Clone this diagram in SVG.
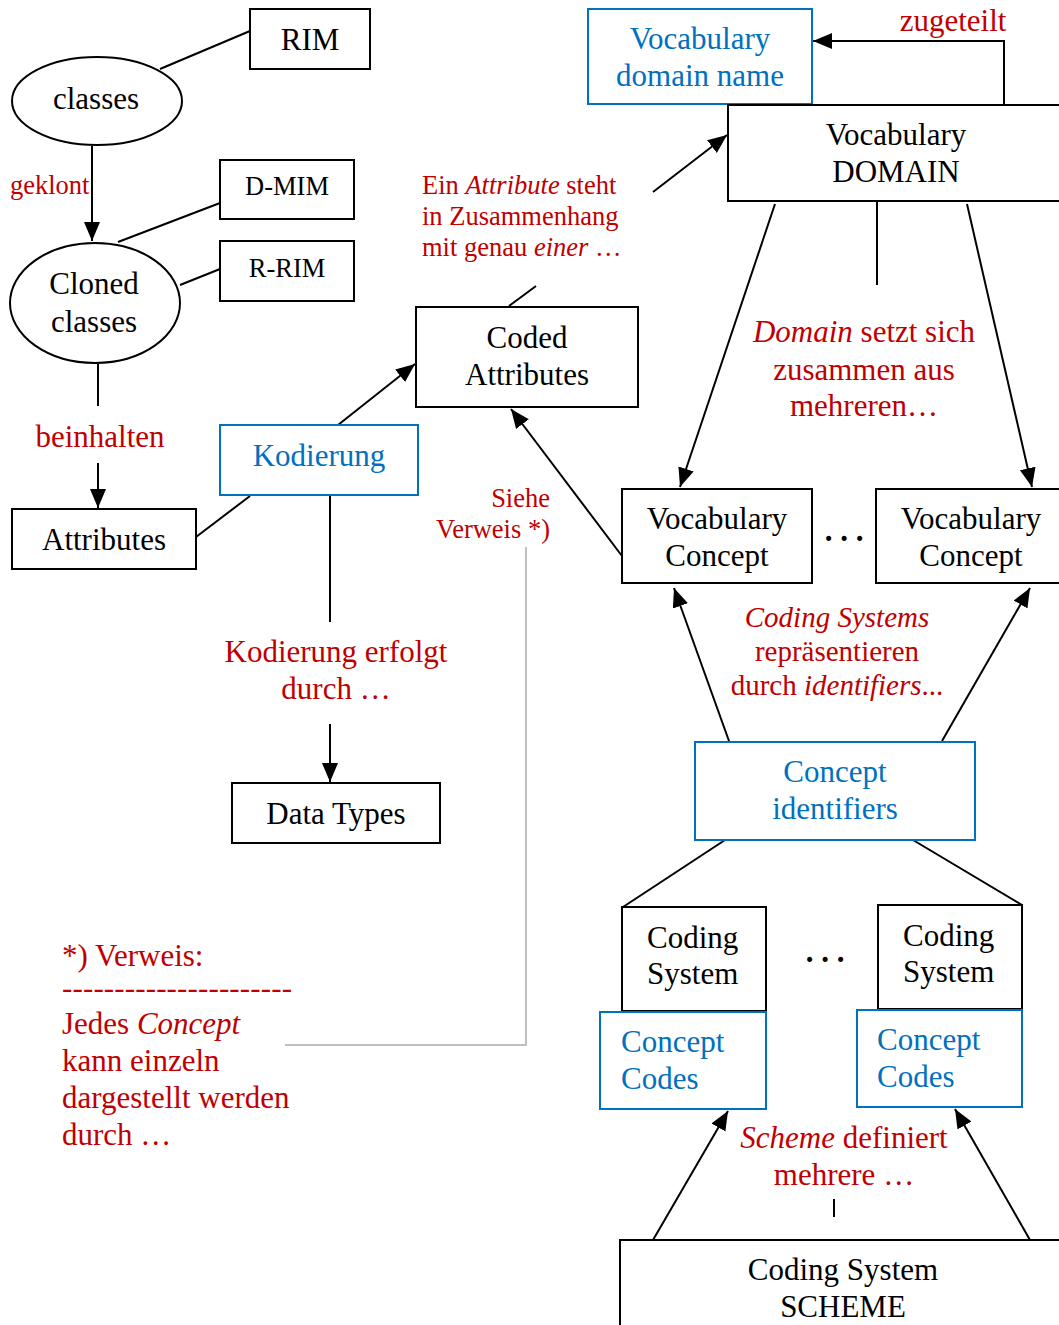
<svg xmlns="http://www.w3.org/2000/svg" width="1059" height="1325" viewBox="0 0 1059 1325">
  <style>
    .box { fill: #fff; stroke: #000; stroke-width: 2; }
    .bbox { fill: #fff; stroke: #0070c0; stroke-width: 2; }
    .t { font-family: "Liberation Serif", "Times New Roman", serif; font-size: 31px; fill: #000; }
    .tb { font-family: "Liberation Serif", "Times New Roman", serif; font-size: 31px; fill: #0070c0; }
    .tr { font-family: "Liberation Serif", "Times New Roman", serif; font-size: 31px; fill: #c00000; }
    .s { font-size: 26.5px; }
    .m { font-size: 29px; }
    .c { text-anchor: middle; }
    .e { text-anchor: end; }
    .i { font-style: italic; }
    .dots { font-weight: bold; }
    .ln { stroke: #000; stroke-width: 2; fill: none; }
    .arr { stroke: #000; stroke-width: 2; fill: none; marker-end: url(#ah); }
    .gray { stroke: #c0c0c0; stroke-width: 2; fill: none; }
  </style>
  <defs>
    <marker id="ah" markerUnits="userSpaceOnUse" markerWidth="20" markerHeight="18" refX="19" refY="8" orient="auto">
      <path d="M0,0 L19,8 L0,16 Z" fill="#000"/>
    </marker>
  </defs>

  <rect width="1059" height="1325" fill="#fff"/>

  <!-- connectors -->
  <g id="connectors">
    <line class="ln" x1="160" y1="69" x2="250" y2="31"/>
    <line class="arr" x1="92" y1="146" x2="92" y2="241"/>
    <line class="ln" x1="118" y1="242" x2="220" y2="203"/>
    <line class="ln" x1="180" y1="285" x2="220" y2="269"/>
    <line class="ln" x1="98" y1="364" x2="98" y2="406"/>
    <line class="arr" x1="98" y1="463" x2="98" y2="508"/>
    <line class="ln" x1="196" y1="537" x2="250" y2="496"/>
    <line class="arr" x1="338" y1="425" x2="415" y2="364"/>
    <line class="ln" x1="330" y1="495" x2="330" y2="622"/>
    <line class="arr" x1="330" y1="724" x2="330" y2="782"/>
    <polyline class="arr" points="1004,105 1004,41 813,41"/>
    <line class="ln" x1="509" y1="306" x2="536" y2="286"/>
    <line class="arr" x1="653" y1="192" x2="727" y2="135"/>
    <line class="arr" x1="775" y1="204" x2="680" y2="487"/>
    <line class="ln" x1="877" y1="202" x2="877" y2="285"/>
    <line class="arr" x1="967" y1="204" x2="1032" y2="487"/>
    <line class="arr" x1="622" y1="556" x2="511" y2="409"/>
    <polyline class="gray" points="526,547 526,1045 285,1045"/>
    <line class="arr" x1="729" y1="741" x2="674" y2="588"/>
    <line class="arr" x1="942" y1="741" x2="1030" y2="588"/>
    <line class="ln" x1="725" y1="840" x2="623" y2="907"/>
    <line class="ln" x1="913" y1="840" x2="1022" y2="905"/>
    <line class="arr" x1="653" y1="1240" x2="728" y2="1111"/>
    <line class="arr" x1="1030" y1="1240" x2="955" y2="1109"/>
    <line class="ln" x1="834" y1="1199" x2="834" y2="1217"/>
  </g>

  <!-- nodes -->
  <g id="rim">
    <rect class="box" x="250" y="9" width="120" height="60"/>
    <text class="t c" x="310" y="50">RIM</text>
  </g>
  <g id="classes">
    <ellipse class="box" cx="97" cy="101" rx="85" ry="44"/>
    <text class="t c" x="96" y="109">classes</text>
  </g>
  <g id="d-mim">
    <rect class="box" x="220" y="160" width="134" height="59"/>
    <text class="t s c" x="287" y="195">D-MIM</text>
  </g>
  <g id="r-rim">
    <rect class="box" x="220" y="241" width="134" height="60"/>
    <text class="t s c" x="287" y="277">R-RIM</text>
  </g>
  <g id="cloned-classes">
    <ellipse class="box" cx="95" cy="303" rx="85" ry="60"/>
    <text class="t c" x="94" y="294">Cloned</text>
    <text class="t c" x="94" y="332">classes</text>
  </g>
  <g id="attributes">
    <rect class="box" x="12" y="509" width="184" height="60"/>
    <text class="t c" x="104" y="550">Attributes</text>
  </g>
  <g id="kodierung">
    <rect class="bbox" x="220" y="425" width="198" height="70"/>
    <text class="tb c" x="319" y="466">Kodierung</text>
  </g>
  <g id="coded-attributes">
    <rect class="box" x="416" y="307" width="222" height="100"/>
    <text class="t c" x="527" y="348">Coded</text>
    <text class="t c" x="527" y="385">Attributes</text>
  </g>
  <g id="data-types">
    <rect class="box" x="232" y="783" width="208" height="60"/>
    <text class="t c" x="336" y="824">Data Types</text>
  </g>
  <g id="vocabulary-domain-name">
    <rect class="bbox" x="588" y="9" width="224" height="95"/>
    <text class="tb c" x="700" y="49">Vocabulary</text>
    <text class="tb c" x="700" y="86">domain name</text>
  </g>
  <g id="vocabulary-domain">
    <rect class="box" x="728" y="105" width="340" height="96"/>
    <text class="t c" x="896" y="145">Vocabulary</text>
    <text class="t c" x="896" y="182">DOMAIN</text>
  </g>
  <g id="vocabulary-concept-1">
    <rect class="box" x="622" y="489" width="190" height="94"/>
    <text class="t c" x="717" y="529">Vocabulary</text>
    <text class="t c" x="717" y="566">Concept</text>
  </g>
  <g id="vocabulary-concept-2">
    <rect class="box" x="876" y="489" width="192" height="94"/>
    <text class="t c" x="971" y="529">Vocabulary</text>
    <text class="t c" x="971" y="566">Concept</text>
  </g>
  <g id="concept-identifiers">
    <rect class="bbox" x="695" y="742" width="280" height="98"/>
    <text class="tb c" x="835" y="782">Concept</text>
    <text class="tb c" x="835" y="819">identifiers</text>
  </g>
  <g id="coding-system-1">
    <rect class="box" x="622" y="907" width="144" height="104"/>
    <text class="t" x="647" y="948">Coding</text>
    <text class="t" x="647" y="984">System</text>
  </g>
  <g id="concept-codes-1">
    <rect class="bbox" x="600" y="1012" width="166" height="97"/>
    <text class="tb" x="621" y="1052">Concept</text>
    <text class="tb" x="621" y="1089">Codes</text>
  </g>
  <g id="coding-system-2">
    <rect class="box" x="878" y="905" width="144" height="104"/>
    <text class="t" x="903" y="946">Coding</text>
    <text class="t" x="903" y="982">System</text>
  </g>
  <g id="concept-codes-2">
    <rect class="bbox" x="857" y="1010" width="165" height="97"/>
    <text class="tb" x="877" y="1050">Concept</text>
    <text class="tb" x="877" y="1087">Codes</text>
  </g>
  <g id="coding-system-scheme">
    <rect class="box" x="620" y="1240" width="450" height="100"/>
    <text class="t c" x="843" y="1280">Coding System</text>
    <text class="t c" x="843" y="1317">SCHEME</text>
  </g>

  <!-- ellipses between siblings -->
  <g id="ellipsis-concepts"><text class="t c dots" x="844" y="541">. . .</text></g>
  <g id="ellipsis-systems"><text class="t c dots" x="825" y="962">. . .</text></g>

  <!-- labels -->
  <g id="labels">
    <text class="tr s" x="10" y="194">geklont</text>
    <text class="tr c" x="100" y="447">beinhalten</text>
    <text class="tr c" x="953" y="31">zugeteilt</text>
    <text class="tr s" x="422" y="194">Ein <tspan class="i">Attribute</tspan> steht</text>
    <text class="tr s" x="422" y="225">in Zusammenhang</text>
    <text class="tr s" x="422" y="256">mit genau <tspan class="i">einer</tspan> …</text>
    <text class="tr c" x="864" y="342"><tspan class="i">Domain</tspan> setzt sich</text>
    <text class="tr c" x="864" y="380">zusammen aus</text>
    <text class="tr c" x="864" y="416">mehreren…</text>
    <text class="tr s e" x="550" y="507">Siehe</text>
    <text class="tr s e" x="550" y="538">Verweis *)</text>
    <text class="tr m c" x="837" y="627"><tspan class="i">Coding Systems</tspan></text>
    <text class="tr m c" x="837" y="661">repräsentieren</text>
    <text class="tr m c" x="837" y="695">durch <tspan class="i">identifiers</tspan>...</text>
    <text class="tr c" x="336" y="662">Kodierung erfolgt</text>
    <text class="tr c" x="336" y="699">durch …</text>
    <text class="tr c" x="844" y="1148"><tspan class="i">Scheme</tspan> definiert</text>
    <text class="tr c" x="844" y="1185">mehrere …</text>
    <text x="62" y="966" class="tr">*) Verweis:</text>
    <text x="62" y="998" class="tr" textLength="230" lengthAdjust="spacing">----------------------</text>
    <text x="62" y="1034" class="tr">Jedes <tspan class="i">Concept</tspan></text>
    <text x="62" y="1071" class="tr">kann einzeln</text>
    <text x="62" y="1108" class="tr">dargestellt werden</text>
    <text x="62" y="1145" class="tr">durch …</text>
  </g>
</svg>
